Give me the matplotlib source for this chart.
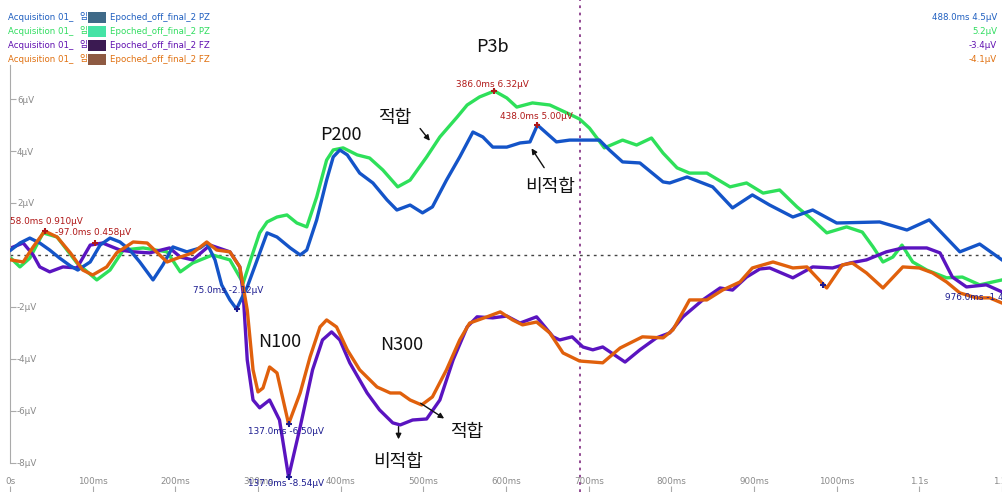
import matplotlib
matplotlib.use("Agg")
import matplotlib.pyplot as plt
from matplotlib.patches import Rectangle

# ---------------- data (time in ms on the display axis, amplitude in µV) ----------------
t_pz_nonfit = [1,12,24,36,48,60,73,82,97,109,121,133,145,157,173,185,197,214,230,238,
               248,256,266,274,287,299,311,323,339,351,359,371,383,391,399,408,423,439,456,468,
               484,499,511,528,544,560,572,584,601,617,629,638,661,677,693,713,725,741,762,790,
               798,819,850,874,898,919,947,971,1000,1052,1085,1112,1149,1173,1200]
v_pz_nonfit = [0.19,0.46,0.65,0.46,0.19,-0.12,-0.42,-0.58,-0.27,0.38,0.65,0.5,0.19,-0.27,-0.96,-0.38,0.31,0.12,0.27,0.46,
               -0.19,-1.15,-1.73,-2.08,-1.23,-0.19,0.85,0.69,0.27,0,0.19,1.35,2.88,3.77,4.04,3.85,3.15,2.77,2.12,1.73,
               1.92,1.62,1.85,2.88,3.77,4.73,4.54,4.15,4.15,4.31,4.35,5.0,4.35,4.42,4.42,4.42,4.04,3.58,3.54,2.81,
               2.77,3.0,2.62,1.81,2.31,1.92,1.46,1.73,1.23,1.27,0.96,1.35,0.12,0.42,-0.19]

t_pz_fit = [1,12,24,40,57,81,105,121,137,161,190,206,221,245,266,282,293,302,311,323,
            335,347,359,371,383,391,403,420,435,451,469,484,504,520,541,553,568,586,601,613,
            632,653,674,689,701,719,741,758,776,790,807,822,843,871,891,911,931,952,971,988,
            1012,1031,1044,1056,1068,1079,1092,1109,1133,1152,1173,1200]
v_pz_fit = [-0.12,-0.46,-0.12,0.85,0.69,-0.31,-0.96,-0.58,0.19,0.27,0.12,-0.65,-0.31,0,-0.19,-1.08,0,0.85,1.27,1.46,
            1.54,1.23,1.08,2.23,3.65,4.04,4.12,3.85,3.73,3.27,2.62,2.88,3.77,4.54,5.31,5.77,6.08,6.31,6.04,5.69,
            5.85,5.77,5.46,5.23,4.88,4.12,4.42,4.23,4.5,3.92,3.35,3.15,3.15,2.62,2.77,2.38,2.5,1.85,1.35,0.85,
            1.08,0.88,0.31,-0.27,-0.08,0.38,-0.27,-0.58,-0.88,-0.85,-1.15,-0.96]

t_fz_nonfit = [1,16,28,36,48,64,81,97,112,133,149,169,193,206,221,242,266,278,282,287,
               294,302,314,326,337,351,366,378,389,399,411,432,447,463,472,487,504,520,536,553,
               565,584,601,617,637,657,665,680,693,705,717,744,762,782,798,814,838,859,874,891,
               907,919,947,971,995,1016,1036,1060,1080,1109,1125,1140,1157,1181,1200]
v_fz_nonfit = [0.27,0.46,0,-0.46,-0.65,-0.46,-0.5,0.38,0.46,0.19,0.12,0.08,0.27,-0.08,-0.19,0.38,0.12,-0.46,-1.46,-4.04,
               -5.58,-5.88,-5.58,-6.35,-8.54,-6.62,-4.42,-3.27,-2.96,-3.27,-4.15,-5.31,-5.96,-6.46,-6.54,-6.35,-6.31,-5.58,-4.04,-2.77,
               -2.38,-2.42,-2.35,-2.62,-2.38,-3.15,-3.27,-3.15,-3.54,-3.65,-3.54,-4.12,-3.65,-3.19,-3.0,-2.38,-1.73,-1.27,-1.35,-0.85,
               -0.54,-0.5,-0.88,-0.46,-0.5,-0.31,-0.19,0.12,0.27,0.27,0.08,-0.85,-1.23,-1.15,-1.42]

t_fz_fit = [1,16,28,42,57,73,88,100,117,129,149,166,181,190,206,221,238,250,266,278,
            287,294,300,306,314,323,337,351,363,375,383,395,408,423,444,460,472,484,498,511,
            528,544,556,577,593,608,620,637,653,669,689,717,738,765,790,802,822,843,862,883,
            898,923,947,964,988,1007,1019,1036,1056,1080,1100,1116,1133,1149,1169,1185,1200]
v_fz_fit = [-0.19,-0.27,0.31,0.92,0.69,0.08,-0.58,-0.77,-0.46,0.08,0.5,0.46,0,-0.27,-0.08,0.08,0.5,0.19,0.12,-0.46,
            -2.12,-4.42,-5.27,-5.12,-4.31,-4.54,-6.5,-5.31,-3.92,-2.77,-2.5,-2.77,-3.65,-4.42,-5.08,-5.31,-5.31,-5.58,-5.77,-5.46,
            -4.42,-3.27,-2.62,-2.38,-2.19,-2.5,-2.69,-2.58,-3.0,-3.77,-4.08,-4.15,-3.58,-3.15,-3.19,-2.88,-1.73,-1.73,-1.35,-1.04,
            -0.5,-0.27,-0.5,-0.46,-1.27,-0.38,-0.31,-0.69,-1.27,-0.46,-0.5,-0.69,-1.04,-1.46,-1.65,-1.65,-1.85]

x_ticks = [0,100,200,300,400,500,600,700,800,900,1000,1100,1200]
x_tick_labels = ["0s","100ms","200ms","300ms","400ms","500ms","600ms","700ms","800ms","900ms","1000ms","1.1s","1.2s"]
y_ticks = [6,4,2,-2,-4,-6,-8]
y_tick_labels = ["6µV","4µV","2µV","-2µV","-4µV","-6µV","-8µV"]
cursor_ms = 689

series_names = ["Epoched_off_final_2 PZ","Epoched_off_final_2 PZ","Epoched_off_final_2 FZ","Epoched_off_final_2 FZ"]
cursor_values = ["488.0ms 4.5µV","5.2µV","-3.4µV","-4.1µV"]

# ---------------- styles ----------------
C_BLUE = "#1454c8"
C_GREEN = "#2ee05a"
C_PURPLE = "#5a14c0"
C_ORANGE = "#e0600c"
swatches = ["#3f6a88", "#45e3a5", "#3b1a52", "#8e5a42"]
text_cols = ["#1f5fc0", "#30dd60", "#6010b0", "#e07010"]
RED = "#b01818"
NAVY = "#1c1c90"
KR = ["Noto Sans CJK KR", "DejaVu Sans"]

W, H = 1002, 492
fig = plt.figure(figsize=(W/100, H/100), dpi=100)
ax = fig.add_axes([10/W, 0, (W-10)/W, 1])
ax.set_xlim(0, 1200)
ax.set_ylim(-9.12, 9.81)

# reference lines
ax.axhline(0, color="#444444", lw=1.0, ls=(0, (2, 3)), zorder=1)
ax.axvline(cursor_ms, color="#8a3c8a", lw=1.3, ls=(0, (1.5, 2.5)), zorder=1)

lw = 2.4
ax.plot(t_pz_nonfit, v_pz_nonfit, color=C_BLUE, lw=lw, zorder=3, solid_joinstyle="round")
ax.plot(t_pz_fit, v_pz_fit, color=C_GREEN, lw=lw, zorder=2, solid_joinstyle="round")
ax.plot(t_fz_nonfit, v_fz_nonfit, color=C_PURPLE, lw=lw, zorder=2, solid_joinstyle="round")
ax.plot(t_fz_fit, v_fz_fit, color=C_ORANGE, lw=lw, zorder=3, solid_joinstyle="round")

# spines / ticks
for s in ["top", "right", "bottom"]:
    ax.spines[s].set_visible(False)
ax.spines["left"].set_color("#aaaaaa")
ax.spines["left"].set_bounds(-8, 7.3)
ax.set_yticks(y_ticks)
ax.set_yticklabels(y_tick_labels)
ax.tick_params(axis="y", direction="in", length=4, pad=-5, colors="#aaaaaa", labelcolor="#8a8a8a", labelsize=6.3)
for lab in ax.get_yticklabels():
    lab.set_horizontalalignment("left")
ax.set_xticks(x_ticks)
ax.set_xticklabels(x_tick_labels)
ax.tick_params(axis="x", direction="in", length=4, pad=-4.5, colors="#aaaaaa", labelcolor="#8a8a8a", labelsize=6.3)
for lab in ax.get_xticklabels():
    lab.set_verticalalignment("bottom")

# peak markers and labels
sm = dict(fontsize=6.4, family="DejaVu Sans")
ax.plot([42, 103], [0.92, 0.46], "+", color=RED, ms=4, mew=1.5, zorder=4)
ax.text(0, 1.27, "58.0ms 0.910µV", color=RED, va="center", **sm)
ax.text(54, 0.85, "-97.0ms 0.458µV", color=RED, va="center", **sm)
ax.plot([586, 638], [6.31, 5.0], "+", color=RED, ms=4, mew=1.5, zorder=4)
ax.text(540, 6.54, "386.0ms 6.32µV", color=RED, va="center", **sm)
ax.text(593, 5.31, "438.0ms 5.00µV", color=RED, va="center", **sm)
ax.plot([274, 337, 337, 984], [-2.08, -6.5, -8.54, -1.15], "+", color=NAVY, ms=4, mew=1.5, zorder=4)
ax.text(221, -1.35, "75.0ms -2.12µV", color=NAVY, va="center", **sm)
ax.text(288, -6.81, "137.0ms -6.50µV", color=NAVY, va="center", **sm)
ax.text(288, -8.81, "137.0ms -8.54µV", color=NAVY, va="center", **sm)
ax.text(1131, -1.62, "976.0ms -1.42µV", color=NAVY, va="center", clip_on=False, **sm)

# component labels (Korean)
big = dict(fontsize=13, family=KR, color="#111111", ha="center", va="center")
ax.text(584, 8.0, "P3b", **big)
ax.text(400, 4.62, "P200", **big)
ax.text(465, 5.27, "적합", **big)
ax.text(653, 2.62, "비적합", **big)
ax.text(326, -3.35, "N100", **big)
ax.text(474, -3.46, "N300", **big)
ax.text(553, -6.81, "적합", **big)
ax.text(469, -7.96, "비적합", **big)
arr = dict(arrowstyle="-|>", color="#111111", lw=1.0, mutation_scale=8)
ax.annotate("", xy=(510, 4.31), xytext=(494, 4.95), arrowprops=arr)
ax.annotate("", xy=(629, 4.19), xytext=(648, 3.27), arrowprops=arr)
ax.annotate("", xy=(528, -6.35), xytext=(494, -5.65), arrowprops=arr)
ax.annotate("", xy=(470, -7.2), xytext=(470, -6.5), arrowprops=arr)

# legend block (top-left) and cursor values (top-right)
ys = [17, 31, 45, 59]
for i in range(4):
    yf = 1 - ys[i] / H
    fig.text(8/W, yf, "Acquisition 01_", color=text_cols[i], fontsize=6.2, va="center", family="DejaVu Sans")
    fig.text(79/W, yf, "임", color=text_cols[i], fontsize=6.2, va="center", family=KR)
    fig.patches.append(Rectangle((88/W, yf - 5.5/H), 18/W, 11/H, transform=fig.transFigure,
                                 facecolor=swatches[i], edgecolor="none"))
    fig.text(110/W, yf, series_names[i], color=text_cols[i], fontsize=6.2, va="center", family="DejaVu Sans")
    fig.text(997/W, yf, cursor_values[i], color=text_cols[i], fontsize=6.2, va="center", ha="right", family="DejaVu Sans")

fig.savefig("out.png", dpi=100, facecolor="white")
